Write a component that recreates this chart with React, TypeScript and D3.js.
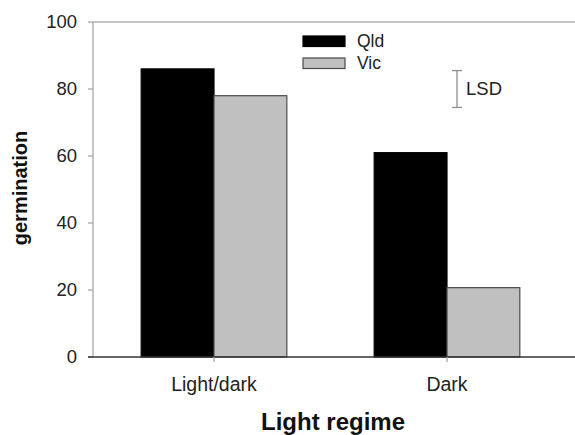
import React from "react";
import * as d3 from "d3";

const categories = ["Light/dark", "Dark"];
const seriesNames = ["Qld", "Vic"];
const qldValues = [86, 61];
const vicValues = [78, 20.7];
const yTicks = [0, 20, 40, 60, 80, 100];
const lsdValue = 11;
const lsdCenter = 80;

const W = 575;
const H = 435;
const FONT = "'Liberation Sans', Arial, sans-serif";

export default function App() {
  const y = d3.scaleLinear().domain([0, 100]).range([357, 22]);
  const x = d3.scaleBand<string>().domain(categories).range([97.5, 563.5]);
  const bw = x.bandwidth();
  const inner = d3.scaleBand<string>().domain(seriesNames).range([0, bw]).paddingOuter(0.6).paddingInner(0);
  const fills: Record<string, string> = { Qld: "#000000", Vic: "#c0c0c0" };
  const strokes: Record<string, string> = { Qld: "#000000", Vic: "#4a4a4a" };
  const values: Record<string, number[]> = { Qld: qldValues, Vic: vicValues };
  const x0 = 93;
  const xEnd = 575;
  const lsdX = 457;

  return (
    <svg width={W} height={H} style={{ position: "absolute", left: 0, top: 0, background: "#fff" }} fontFamily={FONT}>
      {/* top line */}
      <line x1={x0} x2={xEnd} y1={y(100)} y2={y(100)} stroke="#b0b0b0" strokeWidth={1.3} />
      {/* bars */}
      {seriesNames.map((s) =>
        categories.map((c, i) => {
          const bx = (x(c) as number) + (inner(s) as number);
          const v = values[s][i];
          return (
            <rect
              key={s + c}
              x={bx}
              y={y(v)}
              width={inner.bandwidth()}
              height={y(0) - y(v)}
              fill={fills[s]}
              stroke={strokes[s]}
              strokeWidth={1.2}
            />
          );
        })
      )}
      {/* y axis */}
      <line x1={x0} x2={x0} y1={y(100)} y2={y(0)} stroke="#a8a8a8" strokeWidth={1.3} />
      {yTicks.map((t) => (
        <g key={t}>
          <line x1={x0 - 5} x2={x0} y1={y(t)} y2={y(t)} stroke="#a8a8a8" strokeWidth={1.3} />
          <text x={77} y={y(t)} dy="0.35em" textAnchor="end" fontSize={18.5} fill="#222">
            {t}
          </text>
        </g>
      ))}
      {/* x axis */}
      <line x1={x0 - 5} x2={xEnd} y1={y(0)} y2={y(0)} stroke="#333" strokeWidth={1.5} />
      {categories.map((c) => {
        const cx = (x(c) as number) + bw / 2;
        return (
          <g key={c}>
            <line x1={cx} x2={cx} y1={y(0)} y2={y(0) + 5} stroke="#a8a8a8" strokeWidth={1.3} />
            <text x={cx} y={391} textAnchor="middle" fontSize={19.5} fill="#222">
              {c}
            </text>
          </g>
        );
      })}
      {/* axis titles */}
      <text x={333} y={430} textAnchor="middle" fontSize={24} fontWeight="bold" fill="#111">
        Light regime
      </text>
      <text
        transform={`translate(27,188) rotate(-90)`}
        textAnchor="middle"
        fontSize={20}
        fontWeight="bold"
        fill="#111"
      >
        germination
      </text>
      {/* legend */}
      {seriesNames.map((s, i) => (
        <g key={s}>
          <rect
            x={303}
            y={36 + i * 22}
            width={42}
            height={10.5}
            fill={fills[s]}
            stroke={strokes[s]}
            strokeWidth={1.2}
          />
          <text x={357} y={47 + i * 21.5} fontSize={17.5} fill="#222">
            {s}
          </text>
        </g>
      ))}
      {/* LSD */}
      <g stroke="#909090" strokeWidth={1.3}>
        <line x1={lsdX} x2={lsdX} y1={y(lsdCenter + lsdValue / 2)} y2={y(lsdCenter - lsdValue / 2)} />
        <line x1={lsdX - 5} x2={lsdX + 5} y1={y(lsdCenter + lsdValue / 2)} y2={y(lsdCenter + lsdValue / 2)} />
        <line x1={lsdX - 5} x2={lsdX + 5} y1={y(lsdCenter - lsdValue / 2)} y2={y(lsdCenter - lsdValue / 2)} />
      </g>
      <text x={466} y={95} fontSize={18.5} fill="#222">
        LSD
      </text>
    </svg>
  );
}
